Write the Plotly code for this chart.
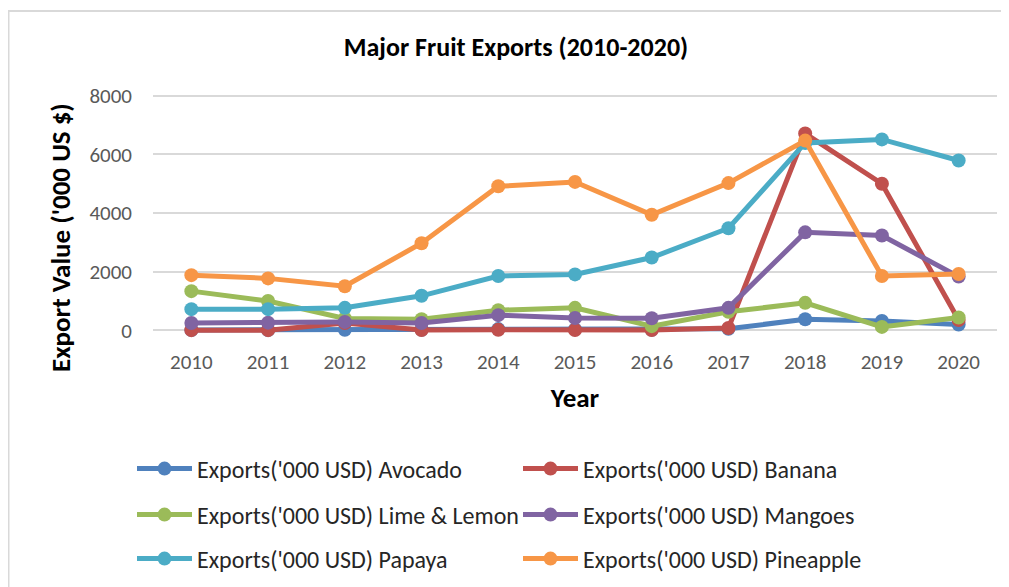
import plotly.graph_objects as go

years = ["2010", "2011", "2012", "2013", "2014", "2015", "2016", "2017", "2018", "2019", "2020"]
avocado = [10, 10, 15, 20, 40, 30, 15, 50, 375, 320, 195]
banana = [5, 5, 250, 10, 15, 10, 10, 80, 6710, 5000, 350]
lime_lemon = [1335, 1000, 400, 375, 685, 765, 140, 630, 935, 115, 435]
mangoes = [250, 260, 285, 250, 515, 420, 410, 765, 3340, 3230, 1830]
papaya = [720, 720, 765, 1175, 1850, 1905, 2480, 3480, 6390, 6510, 5790]
pineapple = [1880, 1770, 1500, 2970, 4910, 5060, 3940, 5020, 6470, 1850, 1920]

series_names = [
    "Exports('000 USD) Avocado",
    "Exports('000 USD) Banana",
    "Exports('000 USD) Lime & Lemon",
    "Exports('000 USD) Mangoes",
    "Exports('000 USD) Papaya",
    "Exports('000 USD) Pineapple",
]
series_values = [avocado, banana, lime_lemon, mangoes, papaya, pineapple]
colors = ["#4F81BD", "#C0504D", "#9BBB59", "#8064A2", "#4BACC6", "#F79646"]

FONT = "Carlito, Lato, 'Liberation Sans', sans-serif"
W, H = 1009, 587
OFF = 8  # page body margin (page coords = figure coords + 8)

fig = go.Figure()
legend_ids = ["legend", "legend2", "legend3", "legend4", "legend5", "legend6"]
for name, vals, col, lid in zip(series_names, series_values, colors, legend_ids):
    fig.add_trace(go.Scatter(
        x=years, y=vals, name=name, mode="lines+markers",
        line=dict(color=col, width=5),
        marker=dict(color=col, size=14),
        cliponaxis=False,
        legend=lid,
    ))

# legend positions in figure px
col_x = [124, 510]
row_y = [461, 507, 551]
legend_layout = {}
for i, lid in enumerate(legend_ids):
    cx = col_x[i % 2]
    ry = row_y[i // 2]
    legend_layout[lid] = dict(
        xref="container", yref="container",
        x=cx / W, y=1 - ry / H, xanchor="left", yanchor="middle",
        orientation="h", itemwidth=55, bgcolor="rgba(0,0,0,0)",
        font=dict(family=FONT, size=24, color="#262626"),
    )

L, R, T, B = 145, 20, 76, 253
PW, PH = W - L - R, H - T - B

fig.update_layout(
    width=W, height=H,
    margin=dict(l=L, r=R, t=T, b=B),
    paper_bgcolor="white", plot_bgcolor="white",
    showlegend=True,
    title=dict(
        text="<b>Major Fruit Exports (2010-2020)</b>",
        x=(516 - OFF) / W, xref="container", xanchor="center",
        y=1 - (47 - OFF) / H, yref="container", yanchor="middle",
        font=dict(family=FONT, size=26, color="#000000"),
    ),
    font=dict(family=FONT),
    **legend_layout,
)

fig.update_xaxes(
    type="category", range=[-0.5, 10.5],
    showgrid=False, zeroline=False, showline=False, ticks="",
    tickfont=dict(family=FONT, size=21, color="#595959"),
    ticklabelstandoff=5,
    title=dict(text="<b>Year</b>", font=dict(family=FONT, size=27, color="#000000"), standoff=14),
)
fig.update_yaxes(
    range=[-400, 8400], tick0=0, dtick=2000,
    showgrid=True, gridcolor="#D9D9D9", gridwidth=1.5,
    zeroline=False, showline=False, ticks="",
    tickfont=dict(family=FONT, size=21, color="#595959"),
    ticklabelstandoff=20,
)

# y-axis title positioned as in the reference (centred lower than the plot centre)
fig.add_annotation(
    text="<b>Export Value ('000 US $)</b>", textangle=-90,
    xref="paper", yref="paper",
    x=(60 - OFF - L) / PW, y=(T + PH - (238 - OFF)) / PH,
    xanchor="center", yanchor="middle", showarrow=False,
    font=dict(family=FONT, size=27, color="#000000"),
)

# outer chart border
fig.add_shape(
    type="rect", xref="paper", yref="paper",
    x0=(0.5 - L) / PW, x1=1.3, y0=-1.5, y1=(T + PH - 3) / PH,
    line=dict(color="#D9D9D9", width=2), fillcolor="rgba(0,0,0,0)", layer="below",
)

fig.write_html("out.html")
